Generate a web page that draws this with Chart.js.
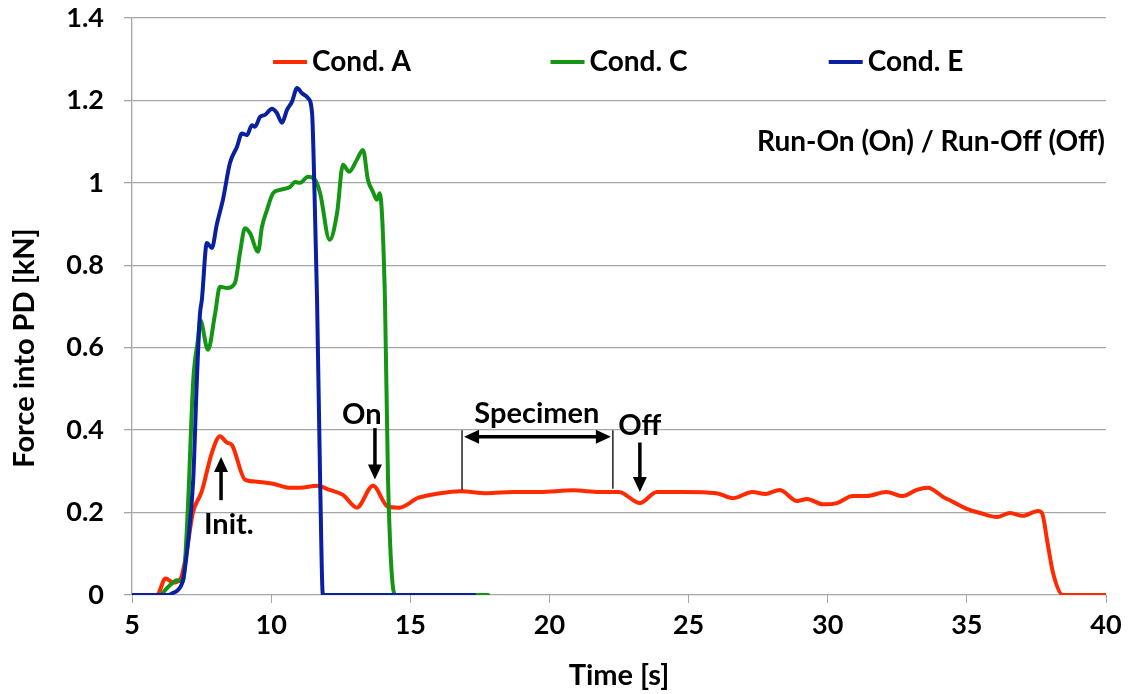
<!DOCTYPE html>
<html>
<head>
<meta charset="utf-8">
<script src="https://cdn.jsdelivr.net/npm/chart.js@4.4.0/dist/chart.umd.min.js"></script>
<style>
  body { margin: 0; background: #fff; }
  #wrap { width: 1131px; height: 694px; position: relative; }
</style>
</head>
<body>
<div id="wrap"><canvas id="myChart"></canvas></div>
<script>
// values
const seriesNames = ["Cond. A", "Cond. C", "Cond. E"];
const seriesColors = ["#ff2a00", "#149614", "#0a20a0"];

const timeA = [5, 5.9, 6.2, 6.5, 6.75, 6.95, 7.19, 7.5, 7.87, 8.16, 8.41, 8.59, 9.06, 9.49, 10.07, 10.68, 11.04, 11.65, 12.1, 12.58,
    13.08, 13.66, 14.2, 14.6, 15.3, 16.07, 16.79, 17.76, 18.7, 19.66, 20.85, 21.8, 22.5, 23.25, 23.86, 24.8, 26.0, 26.6, 27.3, 27.75,
    28.28, 28.9, 29.25, 29.83, 30.33, 30.9, 31.4, 32.1, 32.7, 33.2, 33.6, 34.15, 34.5, 35.0, 35.47, 36.08, 36.55, 37.0, 37.56, 37.7,
    37.9, 38.1, 38.45, 40];
const forceA = [0, 0, 0.04, 0.03, 0.04, 0.1, 0.2, 0.25, 0.345, 0.385, 0.37, 0.364, 0.28, 0.275, 0.27, 0.26, 0.26, 0.265, 0.255, 0.243,
    0.212, 0.265, 0.214, 0.212, 0.236, 0.247, 0.252, 0.247, 0.25, 0.25, 0.254, 0.25, 0.25, 0.223, 0.25, 0.25, 0.247, 0.235, 0.25, 0.245,
    0.255, 0.228, 0.233, 0.22, 0.223, 0.24, 0.24, 0.25, 0.24, 0.255, 0.26, 0.238, 0.226, 0.209, 0.199, 0.189, 0.199, 0.192, 0.204, 0.199,
    0.126, 0.053, 0, 0];

const timeC = [5, 6.0, 6.26, 6.62, 6.83, 7.0, 7.2, 7.37, 7.45, 7.73, 7.98, 8.16, 8.41, 8.7, 8.88, 9.06, 9.24, 9.53, 9.67, 9.85,
    10.07, 10.32, 10.68, 10.86, 11.04, 11.32, 11.58, 11.76, 12.1, 12.37, 12.58, 12.8, 13.08, 13.3, 13.48, 13.66, 13.8, 13.9, 14.09, 14.2,
    14.45, 17.8];
const forceC = [0, 0, 0.017, 0.036, 0.032, 0.2, 0.52, 0.62, 0.667, 0.595, 0.68, 0.748, 0.745, 0.757, 0.83, 0.89, 0.878, 0.833, 0.893, 0.934,
    0.975, 0.983, 0.99, 1.002, 1.0, 1.015, 1.007, 0.975, 0.862, 0.927, 1.044, 1.027, 1.056, 1.08, 1.007, 0.978, 0.959, 0.975, 0.716, 0.28,
    0, 0];

const timeE = [5, 6.3, 6.47, 6.65, 6.83, 7.0, 7.2, 7.33, 7.44, 7.51, 7.69, 7.87, 8.05, 8.27, 8.52, 8.77, 8.95, 9.13, 9.31, 9.42,
    9.6, 9.78, 10.03, 10.2, 10.39, 10.57, 10.75, 10.93, 11.1, 11.32, 11.47, 11.55, 11.65, 11.76, 11.86, 17.3];
const forceE = [0, 0, 0.005, 0.012, 0.036, 0.12, 0.28, 0.52, 0.68, 0.716, 0.854, 0.842, 0.9, 0.96, 1.048, 1.087, 1.12, 1.116, 1.14, 1.136,
    1.16, 1.165, 1.18, 1.17, 1.146, 1.177, 1.197, 1.23, 1.218, 1.206, 1.17, 1.0, 0.716, 0.28, 0, 0];

const xTicks = [5, 10, 15, 20, 25, 30, 35, 40];
const yTicks = [0, 0.2, 0.4, 0.6, 0.8, 1, 1.2, 1.4];

const FONT = "Lato, 'DejaVu Sans', sans-serif";

function toPoints(xs, ys) {
    return xs.map((x, i) => ({ x: x, y: ys[i] }));
}

// arrows + labels, in data units
const annoArrows = [
    { x: 8.2, y0: 0.23, y1: 0.335 },   // Init. (points up)
    { x: 13.73, y0: 0.405, y1: 0.28 }, // On
    { x: 23.25, y0: 0.37, y1: 0.25 }   // Off
];
const annoTexts = [
    { text: "Init.", x: 8.48, y: 0.17 },
    { text: "On", x: 13.26, y: 0.437 },
    { text: "Specimen", x: 19.55, y: 0.44 },
    { text: "Off", x: 23.25, y: 0.41 }
];
const specimenRange = { x0: 16.86, x1: 22.28, yTop: 0.4, yArrow: 0.384, yBot0: 0.255, yBot1: 0.258 };

function drawArrowHead(ctx, x, y, dir) {
    // dir: +1 pointing down, -1 pointing up (in pixel space)
    ctx.beginPath();
    ctx.moveTo(x, y);
    ctx.lineTo(x - 7, y - dir * 15);
    ctx.lineTo(x + 7, y - dir * 15);
    ctx.closePath();
    ctx.fill();
}

const annotationPlugin = {
    id: "annotations",
    afterDatasetsDraw(chart) {
        const { ctx, scales: { x, y }, chartArea } = chart;
        ctx.save();
        ctx.fillStyle = "#000";
        ctx.strokeStyle = "#000";

        annoArrows.forEach(a => {
            const px = x.getPixelForValue(a.x);
            const p0 = y.getPixelForValue(a.y0);
            const p1 = y.getPixelForValue(a.y1);
            const dir = p1 > p0 ? 1 : -1;
            ctx.lineWidth = 3.5;
            ctx.beginPath();
            ctx.moveTo(px, p0);
            ctx.lineTo(px, p1 - dir * 12);
            ctx.stroke();
            drawArrowHead(ctx, px, p1, dir);
        });

        // specimen bracket
        const sx0 = x.getPixelForValue(specimenRange.x0);
        const sx1 = x.getPixelForValue(specimenRange.x1);
        const sTop = y.getPixelForValue(specimenRange.yTop);
        const sArr = y.getPixelForValue(specimenRange.yArrow);
        ctx.lineWidth = 1.3;
        ctx.beginPath();
        ctx.moveTo(sx0, sTop);
        ctx.lineTo(sx0, y.getPixelForValue(specimenRange.yBot0));
        ctx.moveTo(sx1, sTop);
        ctx.lineTo(sx1, y.getPixelForValue(specimenRange.yBot1));
        ctx.stroke();
        ctx.lineWidth = 3.5;
        ctx.beginPath();
        ctx.moveTo(sx0 + 12, sArr);
        ctx.lineTo(sx1 - 12, sArr);
        ctx.stroke();
        [[sx0 + 2, -1], [sx1 - 2, 1]].forEach(([hx, d]) => {
            ctx.beginPath();
            ctx.moveTo(hx, sArr);
            ctx.lineTo(hx - d * 15, sArr - 7);
            ctx.lineTo(hx - d * 15, sArr + 7);
            ctx.closePath();
            ctx.fill();
        });

        ctx.font = "bold 29px " + FONT;
        ctx.textAlign = "center";
        ctx.textBaseline = "middle";
        annoTexts.forEach(t => {
            ctx.fillText(t.text, x.getPixelForValue(t.x), y.getPixelForValue(t.y));
        });

        ctx.textAlign = "right";
        ctx.font = "bold 28px " + FONT;
        ctx.fillText("Run-On (On) / Run-Off (Off)", chartArea.right - 1, y.getPixelForValue(1.1));

        // legend
        const cx = (chartArea.left + chartArea.right) / 2;
        const ly = chartArea.top + 44;
        ctx.font = "bold 28px " + FONT;
        ctx.textAlign = "left";
        chart.data.datasets.forEach((ds, i) => {
            const w = 34 + 5 + ctx.measureText(ds.label).width;
            const start = cx + (i - 1) * 277 - w / 2;
            ctx.strokeStyle = ds.borderColor;
            ctx.lineWidth = 4;
            ctx.beginPath();
            ctx.moveTo(start, ly);
            ctx.lineTo(start + 34, ly);
            ctx.stroke();
            ctx.fillStyle = "#000";
            ctx.fillText(ds.label, start + 39, ly);
        });

        // y axis title (sits a bit below the plot centre in the original)
        ctx.save();
        ctx.translate(25, 348);
        ctx.rotate(-Math.PI / 2);
        ctx.textAlign = "center";
        ctx.font = "bold 29px " + FONT;
        ctx.fillText("Force into PD [kN]", 0, 0);
        ctx.restore();
        ctx.restore();
    }
};

const ctx = document.getElementById("myChart").getContext("2d");
const chart = new Chart(ctx, {
    type: "line",
    data: {
        datasets: [
            { label: seriesNames[0], data: toPoints(timeA, forceA), borderColor: seriesColors[0], order: 3 },
            { label: seriesNames[1], data: toPoints(timeC, forceC), borderColor: seriesColors[1], order: 2 },
            { label: seriesNames[2], data: toPoints(timeE, forceE), borderColor: seriesColors[2], order: 1 }
        ]
    },
    options: {
        responsive: true,
        maintainAspectRatio: false,
        animation: false,
        layout: { padding: { top: 18, right: 25, left: 0, bottom: 0 } },
        elements: {
            point: { radius: 0 },
            line: { borderWidth: 4, cubicInterpolationMode: "monotone", borderJoinStyle: "round", borderCapStyle: "round" }
        },
        plugins: {
            legend: { display: false },
            tooltip: { enabled: false }
        },
        scales: {
            x: {
                type: "linear",
                min: 5,
                max: 40,
                afterBuildTicks: s => { s.ticks = xTicks.map(v => ({ value: v })); },
                afterFit: s => { s.height = 99; },
                grid: { drawOnChartArea: false, drawTicks: true, tickLength: 8, color: "#a6a6a6" },
                border: { display: false },
                ticks: { color: "#000", padding: 6, font: { family: FONT, size: 27, weight: "bold" }, maxRotation: 0 },
                title: { display: true, text: "Time [s]", color: "#000", padding: { top: 0, bottom: 1 },
                         font: { family: FONT, size: 29, weight: "bold" } }
            },
            y: {
                min: 0,
                max: 1.4,
                afterBuildTicks: s => { s.ticks = yTicks.map(v => ({ value: v })); },
                afterFit: s => { s.width = 132; s.paddingTop = 0; s.paddingBottom = 0; },
                grid: { color: "#a6a6a6", lineWidth: 1.3, tickLength: 8 },
                border: { display: true, color: "#a6a6a6", width: 1.3 },
                ticks: { color: "#000", padding: 20, font: { family: FONT, size: 27, weight: "bold" },
                         callback: v => String(+v.toFixed(1)) }
            }
        }
    },
    plugins: [annotationPlugin]
});
</script>
</body>
</html>
